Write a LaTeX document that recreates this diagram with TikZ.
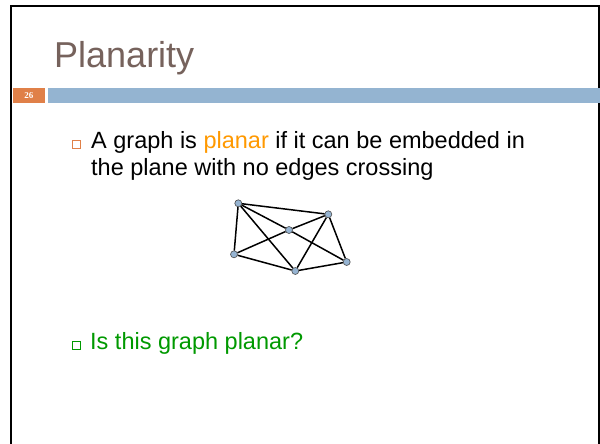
\documentclass[tikz,border=0pt]{standalone}
\usepackage{fontspec}
\setmainfont{Liberation Sans}
\newfontfamily\numserif{Liberation Serif}
\usepackage{tikz}
\usetikzlibrary{arrows.meta}

\definecolor{titlebrown}{RGB}{118,98,92}
\definecolor{barblue}{RGB}{148,180,209}
\definecolor{barorange}{RGB}{224,128,72}
\definecolor{hiorange}{RGB}{255,153,0}
\definecolor{askgreen}{RGB}{0,153,0}
\definecolor{dotblue}{RGB}{150,180,210}

\begin{document}
\begin{tikzpicture}[x=1pt, y=-1pt,
    main/.style = {draw=black!70, circle, fill=dotblue, inner sep=0pt, minimum size=7pt, line width=0.6pt},
    bulletbox/.style = {draw, rectangle, inner sep=0pt, minimum size=8pt, line width=0.8pt},
    body/.style = {anchor=base west, inner sep=0pt, font=\fontsize{23.5}{28}\selectfont}]
    \useasboundingbox (0,0) rectangle (600,444);
    \fill[white] (0,0) rectangle (600,444);
    \draw[line width=2.5pt] (11,450) -- (11,6) -- (599,6) -- (599,450);

    % title and bar
    \node[anchor=base west, inner sep=0pt, text=titlebrown, font=\fontsize{36}{40}\selectfont] (title) at (54,68) {Planarity};
    \fill[barorange] (12.7,87.7) rectangle (45,102.7);
    \fill[barblue] (47.7,87.7) rectangle (600,102.7);
    \node[text=white, font=\numserif\bfseries\fontsize{9}{10}\selectfont] (page) at (28.8,95.2) {26};

    % first bullet
    \node[bulletbox, draw=barorange] (sq1) at (76.5,144.3) {};
    \node[body] (def1) at (91,148) {A graph is {\color{hiorange}planar} if it can be embedded in};
    \node[body] (def2) at (91,175) {the plane with no edges crossing};

    % the graph
    \node[main] (TL) at (238.3,203.3) {};
    \node[main] (TR) at (328.3,214.3) {};
    \node[main] (M) at (289,230) {};
    \node[main] (L) at (234,254.3) {};
    \node[main] (B) at (295.3,271) {};
    \node[main] (R) at (346.7,262) {};

    \path[line width=1.5pt] (TL) edge (TR);
    \path[line width=1.5pt] (TL) edge (L);
    \path[line width=1.5pt] (TL) edge (M);
    \path[line width=1.5pt] (M) edge (R);
    \path[line width=1.5pt] (TL) edge (B);
    \path[line width=1.5pt] (L) edge (M);
    \path[line width=1.5pt] (M) edge (TR);
    \path[line width=1.5pt] (L) edge (B);
    \path[line width=1.5pt] (B) edge (R);
    \path[line width=1.5pt] (TR) edge (R);
    \path[line width=1.5pt] (TR) edge (B);

    % second bullet
    \node[bulletbox, draw=askgreen] (sq2) at (76.2,345.2) {};
    \node[body, text=askgreen] (ask) at (90,349) {Is this graph planar?};
\end{tikzpicture}
\end{document}
